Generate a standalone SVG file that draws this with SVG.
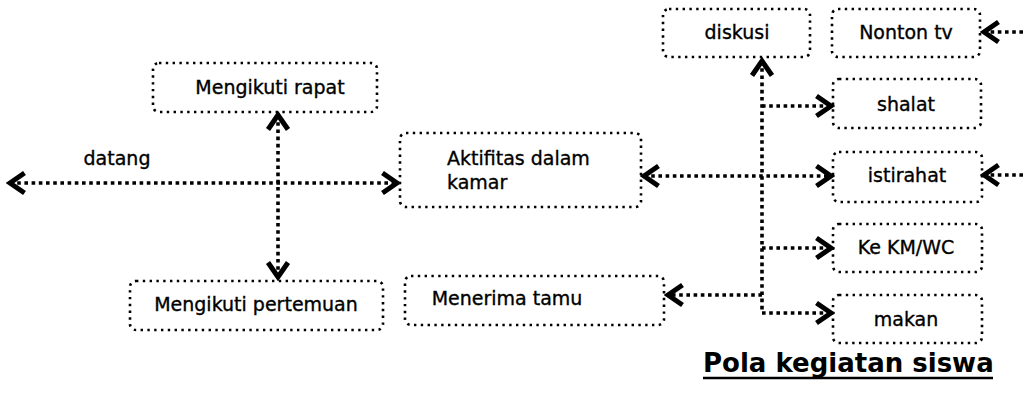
<svg xmlns="http://www.w3.org/2000/svg" width="1023" height="395" viewBox="0 0 1023 395">
  <style>
    .box { fill: none; stroke: #000; stroke-width: 2.6; stroke-dasharray: 2.4 4.4; stroke-linecap: butt; }
    .lbl { font-family: "DejaVu Sans", "Liberation Sans", sans-serif; font-size: 19px; fill: #000; stroke: #000; stroke-width: 0.35; text-anchor: middle; }
    .conn path { fill: none; stroke: #000; stroke-width: 3.6; stroke-dasharray: 3.6 3.6; }
    .title { font-family: "DejaVu Sans", "Liberation Sans", sans-serif; font-size: 26px; font-weight: bold; fill: #000; }
  </style>
  <defs>
    <!-- open chevron arrowhead -->
    <marker id="chev" viewBox="-19 -13 23 26" refX="0" refY="0" markerWidth="23" markerHeight="26" markerUnits="userSpaceOnUse" orient="auto-start-reverse">
      <path d="M-14.5,-10 L0,0 L-14.5,10" fill="none" stroke="#000" stroke-width="5" stroke-linejoin="miter" stroke-miterlimit="6"/>
    </marker>
  </defs>
  <rect width="1023" height="395" fill="#fff"/>

  <!-- connectors -->
  <g id="connectors" class="conn">
    <path d="M10,183 H397" marker-start="url(#chev)" marker-end="url(#chev)"/>
    <path d="M278,115 V277" marker-start="url(#chev)" marker-end="url(#chev)"/>
    <path d="M644,176 H831" marker-start="url(#chev)" marker-end="url(#chev)"/>
    <path d="M762,61 V313 H831" marker-start="url(#chev)" marker-end="url(#chev)"/>
    <path d="M762,106 H831" marker-end="url(#chev)"/>
    <path d="M762,248 H831" marker-end="url(#chev)"/>
    <path d="M762,295 H668" marker-end="url(#chev)"/>
    <path d="M1023,32 H984" marker-end="url(#chev)"/>
    <path d="M1023,175 H984" marker-end="url(#chev)"/>
  </g>

  <text class="lbl" x="117" y="165">datang</text>

  <g id="n-rapat">
    <rect class="box" x="153" y="63" width="224" height="49" rx="6"/>
    <text class="lbl" x="270" y="94">Mengikuti rapat</text>
  </g>
  <g id="n-pertemuan">
    <rect class="box" x="130" y="281" width="253" height="49" rx="6"/>
    <text class="lbl" x="256" y="311">Mengikuti pertemuan</text>
  </g>
  <g id="n-kamar">
    <rect class="box" x="400" y="133" width="241" height="74" rx="6"/>
    <text class="lbl" x="447" y="165" style="text-anchor:start">Aktifitas dalam</text>
    <text class="lbl" x="447" y="189" style="text-anchor:start">kamar</text>
  </g>
  <g id="n-tamu">
    <rect class="box" x="405" y="276" width="259" height="49" rx="6"/>
    <text class="lbl" x="507" y="305">Menerima tamu</text>
  </g>
  <g id="n-diskusi">
    <rect class="box" x="663" y="9" width="147" height="48" rx="6"/>
    <text class="lbl" x="737" y="39">diskusi</text>
  </g>
  <g id="n-tv">
    <rect class="box" x="832" y="9" width="148" height="48" rx="6"/>
    <text class="lbl" x="906" y="39">Nonton tv</text>
  </g>
  <g id="n-shalat">
    <rect class="box" x="833" y="79" width="148" height="49" rx="6"/>
    <text class="lbl" x="906" y="111">shalat</text>
  </g>
  <g id="n-istirahat">
    <rect class="box" x="833" y="152" width="149" height="50" rx="6"/>
    <text class="lbl" x="907" y="182">istirahat</text>
  </g>
  <g id="n-kmwc">
    <rect class="box" x="833" y="224" width="149" height="48" rx="6"/>
    <text class="lbl" x="906" y="254">Ke KM/WC</text>
  </g>
  <g id="n-makan">
    <rect class="box" x="833" y="295" width="149" height="48" rx="6"/>
    <text class="lbl" x="906" y="326">makan</text>
  </g>

  <g id="title">
    <text class="title" x="703" y="372">Pola kegiatan siswa</text>
    <line x1="703" y1="378" x2="993" y2="378" stroke="#000" stroke-width="2.4"/>
  </g>
</svg>
